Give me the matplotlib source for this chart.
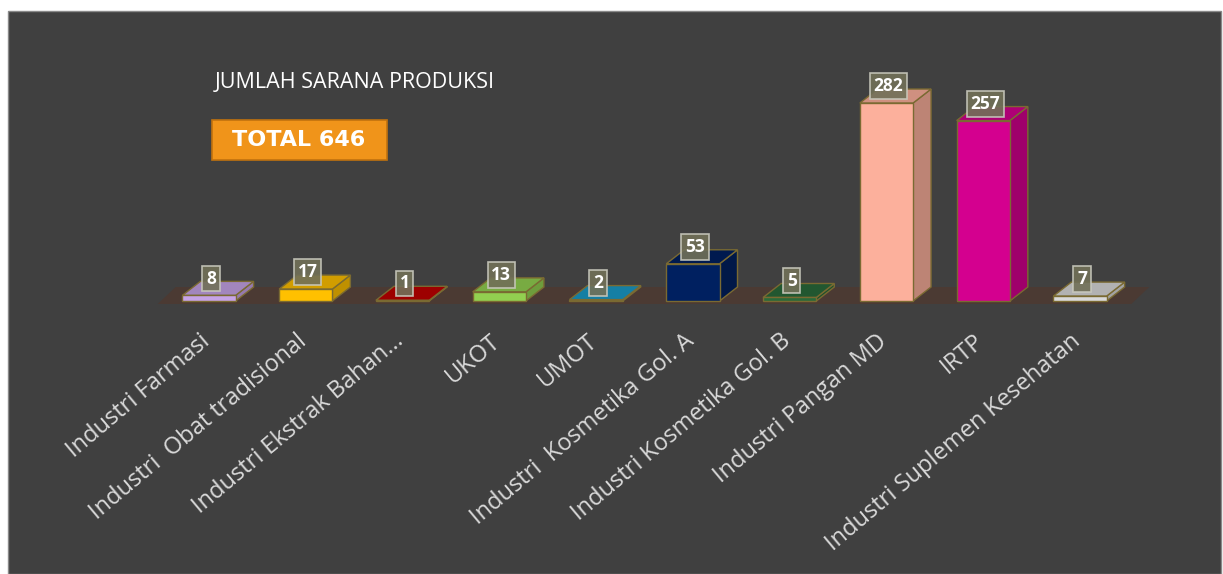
import matplotlib.pyplot as plt
from matplotlib.patches import Polygon, Rectangle
from matplotlib.colors import to_rgb

# data
categories = ["Industri Farmasi", "Industri  Obat tradisional", "Industri Ekstrak Bahan...",
              "UKOT", "UMOT", "Industri  Kosmetika Gol. A", "Industri Kosmetika Gol. B",
              "Industri Pangan MD", "IRTP", "Industri Suplemen Kesehatan"]
values = [8, 17, 1, 13, 2, 53, 5, 282, 257, 7]
colors = ["#c6a3e6", "#ffc000", "#c00000", "#92d050", "#1a9bc8",
          "#002060", "#2a6a3a", "#fcb09c", "#d4008f", "#d9d9d9"]
title = "JUMLAH SARANA PRODUKSI"
total_label = "TOTAL 646"

W, H = 1223, 574
fig = plt.figure(figsize=(W / 100, H / 100), dpi=100)
fig.patch.set_facecolor("white")

# dark panel (behind the axes)
fig.patches.append(Rectangle((8 / W, 0), (1221 - 8) / W, (574 - 11) / H, zorder=-10,
                             transform=fig.transFigure, fc="#404040", ec="#8a8a8a", lw=1))

# axes: category index on x, value on y
px_per_cat = 96.8
px_per_val = 0.702
x0_px = 209 - 0.5 * px_per_cat
x1_px = 1080 + 0.5 * px_per_cat
y0_px, y1_px = 301, 60
ax = fig.add_axes([x0_px / W, (H - y0_px) / H, (x1_px - x0_px) / W, (y0_px - y1_px) / H])
ax.set_xlim(-0.5, 9.5)
ax.set_ylim(0, (y0_px - y1_px) / px_per_val)
ax.axis("off")

bw = 0.55          # bar width (category units)
ddx = 18 / px_per_cat   # depth offset
ddy = 14 / px_per_val
edge = "#7a6a32"

def shade(c, f):
    r, g, b = to_rgb(c)
    return (r * f, g * f, b * f)

# floor
n = len(values)
fl, fr = -0.53, n - 1 + 0.53
fb = -3 / px_per_val
ax.add_patch(Polygon([(fl, fb), (fr, fb), (fr + ddx, fb + ddy + 3 / px_per_val), (fl + ddx, fb + ddy + 3 / px_per_val)],
                     closed=True, fc="#4b3a33", ec="none", clip_on=False, zorder=1))

for i, (v, c) in enumerate(zip(values, colors)):
    l, r = i - bw / 2, i + bw / 2
    front = Polygon([(l, 0), (r, 0), (r, v), (l, v)], closed=True)
    side = Polygon([(r, 0), (r + ddx, ddy), (r + ddx, v + ddy), (r, v)], closed=True)
    top = Polygon([(l, v), (r, v), (r + ddx, v + ddy), (l + ddx, v + ddy)], closed=True)
    for p, f in ((side, 0.75), (top, 0.82), (front, 1.0)):
        p.set_facecolor(shade(c, f))
        p.set_edgecolor(edge)
        p.set_linewidth(1)
        p.set_clip_on(False)
        p.set_zorder(3)
        ax.add_patch(p)
    ax.text(i + 0.02, v + 24, str(v), ha="center", va="center", color="white",
            fontsize=12.5, fontweight="bold", family="Open Sans", zorder=5,
            bbox=dict(boxstyle="square,pad=0.22", fc="#717058", ec="#c9c9bd", lw=1.2, alpha=0.9))
    ax.text(i - 0.1, -40, categories[i], rotation=40, rotation_mode="anchor",
            ha="right", va="top", color="#d9d9d9", fontsize=17, family="Open Sans")

# title and total box
fig.text(215 / W, 1 - 83 / H, title, ha="left", va="center", color="white",
         fontsize=15.5, family="Open Sans")
fig.patches.append(Rectangle((212 / W, 1 - 160 / H), 175 / W, 40 / H, transform=fig.transFigure,
                             fc="#f0941a", ec="#c0720e", lw=1.2))
fig.text(299 / W, 1 - 140 / H, total_label, ha="center", va="center", color="white",
         fontsize=16, fontweight="bold", family="DejaVu Sans")

fig.savefig("out.png", dpi=100, facecolor=fig.get_facecolor())
